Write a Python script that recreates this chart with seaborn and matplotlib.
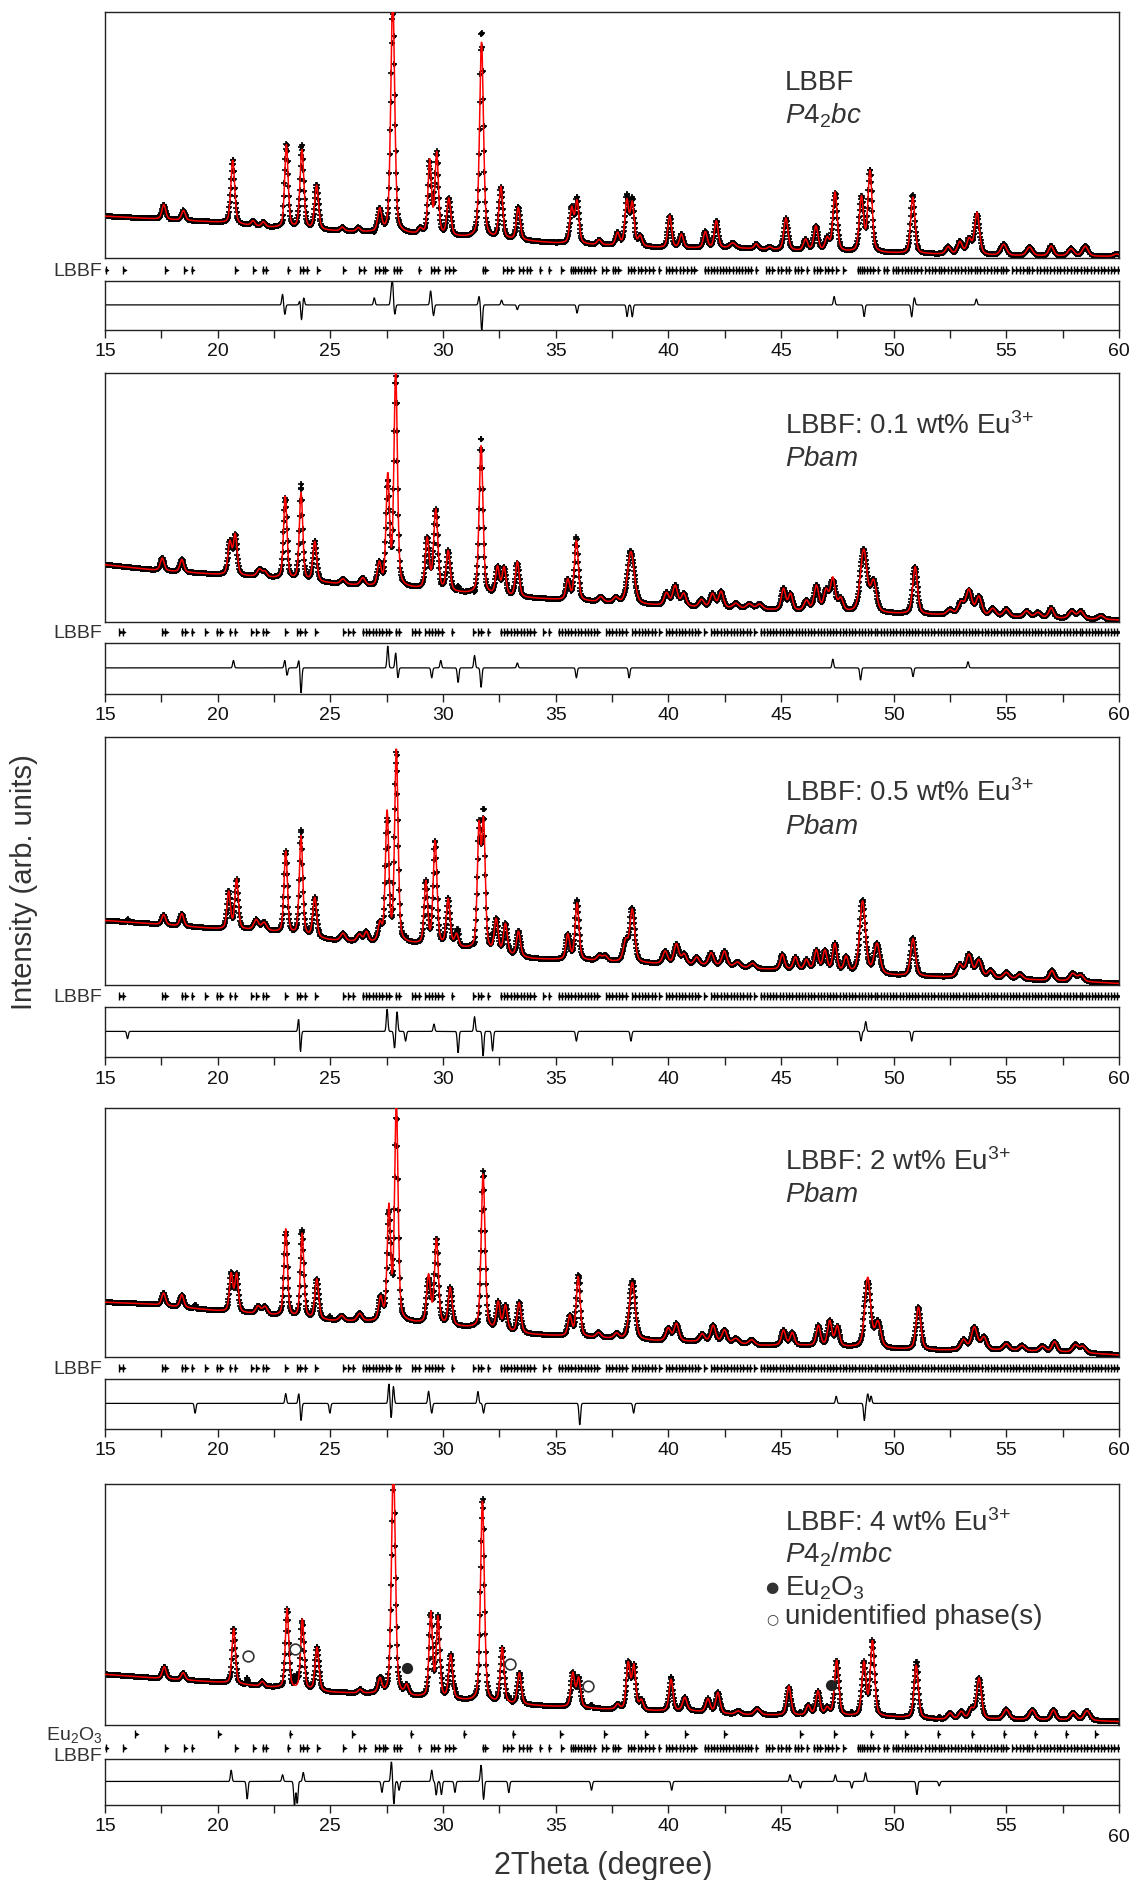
import numpy as np
import pandas as pd
import matplotlib
matplotlib.use("Agg")
import matplotlib.pyplot as plt
import seaborn as sns

# ---------------- data ----------------
# peaks: (2theta position, height above background, FWHM) ; intensities in arb. units (panel height = 1)
P1_BG_X = [15, 17, 20, 22, 25, 28, 30, 33, 35, 40, 43, 46, 50, 55, 60]
P1_BG_Y = [0.17, 0.16, 0.145, 0.125, 0.11, 0.10, 0.088, 0.074, 0.06, 0.04, 0.04, 0.028, 0.019, 0.009, 0.006]
P1_PEAKS = [(17.61, .06, .2), (18.48, .04, .2), (20.67, .26, .2), (21.57, .02, .2), (22.03, .02, .2),
            (23.05, .34, .18), (23.74, .32, .2), (24.39, .18, .2), (25.53, .015, .2), (26.24, .015, .2),
            (27.19, .09, .2), (27.77, .97, .2), (28.99, .02, .2), (29.41, .30, .18), (29.72, .33, .18),
            (30.26, .15, .2), (31.71, .80, .2), (32.57, .21, .2), (33.34, .13, .2), (35.71, .14, .2),
            (35.95, .17, .2), (36.93, .02, .2), (37.75, .05, .2), (38.16, .18, .2), (38.40, .17, .2),
            (38.75, .04, .2), (40.06, .13, .2), (40.58, .055, .2), (41.64, .065, .2), (42.13, .11, .2),
            (42.86, .02, .3), (43.90, .02, .2), (44.50, .01, .2), (45.22, .13, .22), (46.09, .045, .22),
            (46.55, .10, .22), (47.05, .05, .22), (47.40, .24, .22), (48.57, .22, .22), (48.95, .33, .22),
            (50.85, .23, .22), (52.42, .03, .25), (52.94, .05, .25), (53.35, .06, .25), (53.70, .17, .25),
            (54.88, .045, .3), (56.03, .035, .3), (56.99, .04, .25), (57.87, .03, .3), (58.50, .04, .3),
            (59.90, .01, .3)]
P1_DIFF = [(22.88, .045), (22.98, -.04), (23.65, .02), (23.72, -.065), (23.82, .03), (26.95, .03),
           (27.70, .05), (27.76, .09), (27.86, -.04), (29.45, .06), (29.58, -.045), (31.60, .035),
           (31.72, -.11), (32.60, .02), (33.30, -.02), (35.95, -.035), (38.17, -.05), (38.40, -.05),
           (47.36, .035), (48.69, -.05), (50.80, -.05), (50.92, .03), (53.67, .025)]

P2_BG_X = [15, 17, 20, 22, 25, 27, 28.5, 31, 34, 36.5, 39, 42, 44, 46, 50, 52, 55, 60]
P2_BG_Y = [0.23, 0.21, 0.19, 0.18, 0.155, 0.14, 0.135, 0.114, 0.095, 0.082, 0.068, 0.056, 0.05, 0.043,
           0.033, 0.028, 0.02, 0.008]
P2_PEAKS = [(17.54, .05, .2), (18.41, .05, .2), (20.54, .13, .2), (20.78, .16, .2), (21.86, .03, .25),
            (22.10, .02, .2), (23.00, .33, .18), (23.70, .35, .18), (24.31, .16, .2), (25.56, .02, .25),
            (26.44, .03, .25), (27.17, .09, .2), (27.55, .44, .18), (27.90, .86, .18), (29.30, .20, .2),
            (29.68, .32, .22), (30.23, .16, .2), (31.69, .60, .2), (32.42, .11, .2), (32.71, .11, .2),
            (33.30, .14, .2), (35.54, .08, .2), (35.92, .24, .2), (37.00, .02, .25), (37.67, .02, .25),
            (38.34, .21, .35), (39.92, .05, .25), (40.30, .08, .25), (40.68, .05, .25), (41.47, .03, .25),
            (41.96, .055, .25), (42.34, .065, .25), (43.00, .02, .3), (43.60, .02, .3), (44.05, .02, .3),
            (45.11, .085, .22), (45.42, .065, .22), (46.13, .04, .25), (46.57, .10, .25), (47.00, .08, .25),
            (47.30, .13, .25), (47.65, .05, .25), (48.67, .25, .35), (49.11, .12, .3), (50.95, .19, .25),
            (52.50, .02, .3), (52.99, .05, .3), (53.34, .10, .3), (53.78, .075, .3), (54.40, .03, .3),
            (55.00, .03, .3), (55.90, .025, .3), (56.40, .02, .3), (56.99, .04, .25), (57.90, .03, .3),
            (58.30, .03, .3), (59.20, .015, .3)]
P2_DIFF = [(20.70, .03), (22.98, .03), (23.08, -.03), (23.60, .03), (23.70, -.10), (27.55, .09),
           (27.90, .06), (28.00, -.04), (29.50, -.04), (29.90, .03), (30.67, -.06), (31.40, .05),
           (31.69, -.08), (33.30, .02), (35.92, -.04), (38.26, -.04), (47.30, .035), (48.53, -.05),
           (50.86, -.035), (53.30, .025)]

P3_BG_X = [15, 17, 20, 22, 25, 26.5, 28.5, 31, 34, 36.5, 39.5, 42, 44, 46, 50, 52, 55, 58, 60]
P3_BG_Y = [0.26, 0.247, 0.226, 0.22, 0.18, 0.17, 0.165, 0.145, 0.105, 0.098, 0.085, 0.078, 0.064,
           0.06, 0.038, 0.032, 0.024, 0.015, 0.006]
P3_PEAKS = [(17.60, .04, .2), (18.41, .05, .2), (20.49, .15, .18), (20.84, .20, .18), (21.71, .04, .25),
            (22.06, .03, .25), (23.02, .33, .18), (23.70, .40, .18), (24.31, .16, .2), (25.56, .03, .25),
            (26.29, .03, .25), (26.60, .04, .2), (27.20, .07, .2), (27.52, .52, .18), (27.93, .78, .18),
            (29.24, .25, .18), (29.65, .42, .2), (30.23, .19, .2), (30.60, .05, .2), (31.60, .48, .18),
            (31.80, .50, .18), (32.36, .13, .2), (32.77, .12, .2), (33.35, .10, .2), (35.54, .10, .2),
            (35.95, .23, .2), (36.94, .02, .25), (37.20, .02, .25), (38.11, .08, .25), (38.40, .21, .25),
            (39.86, .05, .25), (40.36, .08, .25), (40.70, .04, .25), (41.26, .03, .25), (41.90, .05, .25),
            (42.49, .06, .25), (43.07, .02, .3), (43.74, .02, .3), (45.06, .06, .22), (45.64, .05, .22),
            (46.13, .04, .22), (46.57, .08, .22), (46.95, .08, .22), (47.39, .11, .22), (47.89, .06, .22),
            (48.62, .29, .3), (49.26, .12, .3), (50.86, .15, .25), (52.93, .05, .3), (53.34, .09, .3),
            (53.78, .07, .3), (54.30, .03, .3), (55.00, .025, .3), (55.60, .02, .3), (57.02, .04, .25),
            (57.95, .03, .3), (58.30, .025, .3)]
P3_DIFF = [(16.00, -.03), (23.60, .06), (23.67, -.09), (27.52, .09), (27.85, -.07), (27.96, .08),
           (28.34, -.04), (29.60, .03), (30.67, -.09), (31.40, .06), (31.78, -.10), (32.20, -.08),
           (35.92, -.04), (38.34, -.04), (48.55, -.04), (48.76, .04), (50.80, -.04)]

P4_BG_X = [15, 17, 20, 22, 25, 28.5, 31, 34, 36.5, 39.5, 42, 44, 46, 50, 52, 55, 58, 60]
P4_BG_Y = [0.22, 0.212, 0.185, 0.17, 0.145, 0.138, 0.118, 0.09, 0.078, 0.064, 0.06, 0.046, 0.046,
           0.032, 0.027, 0.027, 0.018, 0.008]
P4_PEAKS = [(17.60, .05, .2), (18.41, .05, .2), (20.60, .15, .18), (20.84, .15, .18), (21.80, .03, .25),
            (22.10, .03, .25), (23.02, .35, .18), (23.75, .34, .18), (24.40, .16, .2), (25.50, .02, .25),
            (26.30, .03, .25), (27.23, .09, .2), (27.60, .45, .18), (27.93, .88, .18), (29.36, .19, .2),
            (29.71, .34, .2), (30.32, .15, .2), (31.78, .62, .2), (32.45, .11, .2), (32.77, .10, .2),
            (33.38, .12, .2), (35.63, .08, .2), (36.00, .24, .2), (36.90, .02, .25), (37.70, .02, .25),
            (38.40, .23, .3), (40.00, .05, .25), (40.36, .07, .25), (41.50, .03, .25), (41.99, .065, .25),
            (42.49, .05, .25), (43.00, .02, .3), (43.70, .02, .3), (45.11, .06, .22), (45.50, .05, .22),
            (46.66, .08, .22), (47.16, .10, .22), (47.50, .08, .22), (48.85, .28, .3), (49.30, .10, .3),
            (51.10, .17, .25), (53.10, .04, .3), (53.58, .09, .3), (54.00, .05, .3), (55.00, .025, .3),
            (55.70, .02, .3), (56.60, .02, .3), (57.14, .04, .25), (58.07, .03, .3), (58.40, .025, .3)]
P4_DIFF = [(19.00, -.04), (23.02, .04), (23.60, .04), (23.70, -.07), (24.98, -.04), (27.60, .08),
           (27.70, -.06), (27.80, .07), (29.36, .05), (29.50, -.04), (31.55, .05), (31.80, -.04),
           (36.07, -.09), (38.46, -.04), (47.45, .03), (48.70, -.07), (48.85, .04), (49.00, .03)]

P5_BG_X = [15, 17, 20, 22, 25, 27, 28.5, 30.5, 32, 35, 37, 39, 41, 43, 45, 48, 50, 52, 55, 58, 60]
P5_BG_Y = [0.21, 0.196, 0.177, 0.159, 0.135, 0.128, 0.117, 0.104, 0.09, 0.076, 0.066, 0.058, 0.058,
           0.042, 0.04, 0.036, 0.032, 0.023, 0.023, 0.02, 0.014]
P5_PEAKS = [(17.63, .05, .2), (18.47, .03, .2), (20.71, .23, .18), (21.98, .02, .2), (23.08, .33, .18),
            (23.76, .29, .18), (24.41, .18, .2), (26.32, .015, .2), (27.20, .06, .2), (27.80, .97, .2),
            (28.39, .04, .2), (29.46, .35, .18), (29.78, .33, .18), (30.34, .18, .2), (31.75, .84, .2),
            (32.63, .23, .2), (33.39, .13, .2), (35.76, .14, .2), (36.02, .12, .2), (37.75, .02, .2),
            (38.22, .19, .2), (38.47, .18, .2), (38.80, .04, .2), (40.12, .13, .2), (40.73, .055, .22),
            (41.76, .055, .22), (42.20, .085, .22), (43.10, .015, .3), (43.95, .025, .3), (45.35, .12, .22),
            (46.21, .04, .22), (46.64, .10, .22), (47.05, .03, .22), (47.47, .23, .22), (48.68, .22, .22),
            (49.06, .31, .22), (51.00, .22, .22), (52.50, .025, .25), (53.00, .03, .25), (53.45, .04, .25),
            (53.79, .17, .25), (55.00, .04, .3), (56.15, .04, .3), (57.09, .04, .25), (57.97, .03, .3),
            (58.58, .04, .3)]
P5_DIFF = [(20.60, .05), (21.31, -.08), (22.88, .03), (23.41, -.11), (23.53, -.10), (23.80, .04),
           (27.29, -.05), (27.71, .09), (27.82, -.10), (28.05, -.04), (29.50, .05), (29.70, -.06),
           (29.93, -.06), (30.53, -.05), (31.69, .075), (31.80, -.08), (32.92, -.05), (36.59, -.04),
           (40.15, -.04), (45.40, .03), (45.86, -.03), (47.41, .03), (48.14, -.03), (48.75, .04),
           (51.03, -.06), (52.02, -.02)]

# extra-phase markers in the 4 wt% pattern
UNID_X = [21.36, 23.44, 32.97, 36.44]
UNID_Y = [0.287, 0.314, 0.252, 0.162]
EU2O3_MARK_X = [28.39, 47.21]
EU2O3_MARK_Y = [0.238, 0.165]

# Bragg reflection positions
LBBF_TET_REFL = [15.03, 15.80, 17.67, 18.51, 18.85, 20.77, 21.57, 22.00, 22.13, 23.10, 23.66, 23.79, 23.95,
                 24.42, 25.56, 26.29, 26.49, 27.00, 27.17, 27.34, 27.43, 27.82, 27.94, 28.07, 28.92, 29.47,
                 29.60, 29.77, 30.11, 30.28, 30.45, 31.76, 31.88, 32.66, 32.86, 33.03, 33.37, 33.54, 33.71,
                 33.85, 34.30, 34.69, 35.24, 35.66, 35.78, 35.88, 36.00, 36.12, 36.26, 36.39, 36.51, 36.68,
                 37.07, 37.24, 37.53, 37.65, 37.78, 38.21, 38.34, 38.46, 38.67, 38.80, 38.97, 39.14, 39.31,
                 39.57, 39.91, 40.03, 40.16, 40.33, 40.50, 40.67, 40.85, 41.02, 41.15, 41.62, 41.75, 41.90,
                 42.02, 42.15, 42.30, 42.44, 42.58, 42.70, 42.85, 43.00, 43.12, 43.26, 43.40, 43.55, 43.65,
                 43.88, 44.35, 44.45, 44.60, 44.85, 45.00, 45.20, 45.35, 45.60, 45.75, 45.90, 46.15, 46.45,
                 46.60, 46.75, 46.95, 47.10, 47.25, 47.45, 47.75, 48.40, 48.50, 48.60, 48.70, 48.82, 48.95,
                 49.10, 49.30, 49.55, 49.70, 49.95, 50.10, 50.20, 50.35, 50.50, 50.62, 50.75, 50.90, 51.05,
                 51.20, 51.40, 51.55, 51.70, 51.85, 52.00, 52.12, 52.25, 52.40, 52.55, 52.70, 52.85, 53.00,
                 53.15, 53.30, 53.45, 53.60, 53.72, 53.85, 54.00, 54.15, 54.30, 54.45, 54.60, 54.75, 54.85,
                 55.00, 55.25, 55.45, 55.60, 55.75, 55.90, 56.00, 56.15, 56.35, 56.50, 56.65, 56.80, 56.95,
                 57.10, 57.25, 57.40, 57.55, 57.70, 57.85, 58.00, 58.15, 58.30, 58.45, 58.60, 58.75, 58.90,
                 59.05, 59.20, 59.35, 59.50, 59.65, 59.80, 59.95]
LBBF_PBAM_REFL = [15.64, 15.79, 17.54, 17.68, 18.41, 18.56, 18.85, 19.44, 19.96, 20.11, 20.54, 20.75, 21.48,
                  21.71, 22.00, 22.15, 23.00, 23.52, 23.67, 23.87, 24.34, 25.56, 25.80, 26.00, 26.44, 26.58,
                  26.73, 26.88, 27.02, 27.17, 27.31, 27.49, 27.61, 27.90, 28.04, 28.63, 28.77, 28.92, 29.21,
                  29.36, 29.50, 29.65, 29.80, 29.94, 30.38, 31.34, 31.55, 31.69, 31.98, 32.57, 32.72, 32.86,
                  33.00, 33.15, 33.30, 33.44, 33.59, 33.74, 33.88, 34.02, 34.46, 34.70, 35.13, 35.27, 35.42,
                  35.56, 35.70, 35.85, 35.99, 36.13, 36.28, 36.42, 36.56, 36.70, 36.85, 37.24, 37.38, 37.52,
                  37.67, 37.81, 37.95, 38.10, 38.40, 38.54, 38.68, 38.83, 38.97, 39.11, 39.26, 39.40, 39.60,
                  39.90, 40.04, 40.18, 40.33, 40.47, 40.61, 40.76, 40.90, 41.04, 41.19, 41.33, 41.60, 41.90,
                  42.04, 42.18, 42.33, 42.47, 42.61, 42.76, 42.90, 43.04, 43.19, 43.33, 43.47, 43.62, 43.80,
                  44.10, 44.24, 44.38, 44.52, 44.66, 44.80, 44.95, 45.08, 45.22, 45.36, 45.50, 45.65, 45.78,
                  45.92, 46.06, 46.20, 46.35, 46.48, 46.62, 46.76, 46.90, 47.05, 47.18, 47.32, 47.46, 47.60,
                  47.75, 47.88, 48.02, 48.16, 48.30, 48.45, 48.58, 48.72, 48.86, 49.00, 49.15, 49.28, 49.42,
                  49.56, 49.70, 49.85, 49.98, 50.12, 50.26, 50.40, 50.55, 50.68, 50.82, 50.96, 51.10, 51.25,
                  51.38, 51.52, 51.66, 51.80, 51.95, 52.08, 52.22, 52.36, 52.50, 52.65, 52.78, 52.92, 53.06,
                  53.20, 53.35, 53.48, 53.62, 53.76, 53.90, 54.05, 54.18, 54.32, 54.46, 54.60, 54.75, 54.88,
                  55.02, 55.16, 55.30, 55.45, 55.58, 55.72, 55.86, 56.00, 56.15, 56.28, 56.42, 56.56, 56.70,
                  56.85, 56.98, 57.12, 57.26, 57.40, 57.55, 57.68, 57.82, 57.96, 58.10, 58.25, 58.38, 58.52,
                  58.66, 58.80, 58.95, 59.08, 59.22, 59.36, 59.50, 59.65, 59.78, 59.92]
EU2O3_REFL = [16.33, 20.03, 23.20, 25.97, 28.57, 30.92, 33.09, 35.19, 37.15, 38.98, 40.76, 42.47, 45.86,
              47.35, 48.98, 50.50, 51.95, 53.47, 54.89, 56.26, 57.63, 58.95]

LABELS = ["LBBF", "LBBF: 0.1 wt% Eu$^{3{+}}$", "LBBF: 0.5 wt% Eu$^{3{+}}$", "LBBF: 2 wt% Eu$^{3{+}}$",
          "LBBF: 4 wt% Eu$^{3{+}}$"]
SPACE_GROUPS = [r"$\mathit{P4_2bc}$", r"$\mathit{Pbam}$", r"$\mathit{Pbam}$", r"$\mathit{Pbam}$",
                r"$\mathit{P4_2/mbc}$"]
X_TICKS = [15, 20, 25, 30, 35, 40, 45, 50, 55, 60]

# ---------------- style ----------------
sns.set_theme(style="white")
plt.rcParams["font.family"] = ["Liberation Sans", "DejaVu Sans"]
plt.rcParams["mathtext.fontset"] = "custom"
plt.rcParams["mathtext.rm"] = "Liberation Sans"
plt.rcParams["mathtext.it"] = "Liberation Sans:italic"
plt.rcParams["mathtext.bf"] = "Liberation Sans:bold"
TXT = "#333333"

W, H = 1137, 1881
fig = plt.figure(figsize=(W / 100, H / 100), dpi=100)
fig.patch.set_facecolor("white")
LEFT, RIGHT = 105, 1119

TWO_THETA = np.round(np.arange(15.0, 60.0001, 0.02), 3)


def calc_profile(peaks, bx, by):
    y = np.interp(TWO_THETA, bx, by)
    for p, h, w in peaks:
        z = (TWO_THETA - p) / w
        y = y + h * (0.4 / (1 + 4 * z * z) + 0.6 * np.exp(-4 * np.log(2) * z * z))
    return y


def diff_profile(res):
    r = np.zeros_like(TWO_THETA)
    for p, a in res:
        r = r + a * np.exp(-0.5 * ((TWO_THETA - p) / 0.035) ** 2)
    return r


def add_ax(top, bottom):
    return fig.add_axes([LEFT / W, 1 - bottom / H, (RIGHT - LEFT) / W, (bottom - top) / H])


def fy(y):
    return 1 - y / H


panels = [
    dict(peaks=P1_PEAKS, bx=P1_BG_X, by=P1_BG_Y, res=P1_DIFF, main=(13, 259), ticks=[(271, LBBF_TET_REFL, "LBBF", 271)],
         diff=(282, 331), text_y=(83, 116), inner=[30]),
    dict(peaks=P2_PEAKS, bx=P2_BG_X, by=P2_BG_Y, res=P2_DIFF, main=(374, 623), ticks=[(633, LBBF_PBAM_REFL, "LBBF", 634)],
         diff=(644, 695), text_y=(426, 459), inner=[]),
    dict(peaks=P3_PEAKS, bx=P3_BG_X, by=P3_BG_Y, res=P3_DIFF, main=(738, 986), ticks=[(997, LBBF_PBAM_REFL, "LBBF", 998)],
         diff=(1008, 1058), text_y=(793, 827), inner=[40, 50]),
    dict(peaks=P4_PEAKS, bx=P4_BG_X, by=P4_BG_Y, res=P4_DIFF, main=(1109, 1358), ticks=[(1369, LBBF_PBAM_REFL, "LBBF", 1370)],
         diff=(1380, 1430), text_y=(1162, 1195), inner=[]),
    dict(peaks=P5_PEAKS, bx=P5_BG_X, by=P5_BG_Y, res=P5_DIFF, main=(1485, 1726),
         ticks=[(1735, EU2O3_REFL, "Eu$_2$O$_3$", 1735), (1749, LBBF_TET_REFL, "LBBF", 1757)],
         diff=(1760, 1806), text_y=(1523, 1555), inner=[40]),
]

for i, pnl in enumerate(panels):
    calc = calc_profile(pnl["peaks"], pnl["bx"], pnl["by"])
    diff = diff_profile(pnl["res"])
    obs = calc - 0.35 * diff
    df = pd.DataFrame({"tt": TWO_THETA, "obs": obs, "calc": calc, "diff": diff})

    # main panel
    ax = add_ax(*pnl["main"])
    sns.scatterplot(data=df, x="tt", y="obs", ax=ax, marker="+", s=22, color="black",
                    linewidth=1.2, legend=False, zorder=2)
    sns.scatterplot(data=df, x="tt", y="obs", ax=ax, marker="o", s=7, color="black",
                    linewidth=0, legend=False, zorder=2)
    sns.lineplot(data=df, x="tt", y="calc", ax=ax, color="#ff0000", linewidth=1.1,
                 estimator=None, sort=False, legend=False, zorder=3)
    ax.set_xlim(15, 60)
    ax.set_ylim(0, 1)
    ax.set_xlabel("")
    ax.set_ylabel("")
    ax.set_yticks([])
    ax.set_xticks(pnl["inner"])
    ax.tick_params(axis="x", direction="in", length=4, width=0.8, labelbottom=False, colors="#333333")
    for s in ax.spines.values():
        s.set_color("#222222")
        s.set_linewidth(1.0)
    ax.set_facecolor("white")

    if i == 4:
        sns.scatterplot(x=UNID_X, y=UNID_Y, ax=ax, marker="o", s=60, facecolor="white",
                        edgecolor="#333333", linewidth=1.2, legend=False, zorder=4)
        sns.scatterplot(x=EU2O3_MARK_X, y=EU2O3_MARK_Y, ax=ax, marker="o", s=65, color="#222222",
                        linewidth=0, legend=False, zorder=4)

    # annotation
    ty1, ty2 = pnl["text_y"]
    fig.text(785 / W, fy(ty1), LABELS[i], fontsize=20, color=TXT, ha="left", va="center")
    fig.text(785 / W, fy(ty2), SPACE_GROUPS[i], fontsize=20, color=TXT, ha="left", va="center")
    if i == 4:
        fig.text(772 / W, fy(1588), "\u25CF", fontsize=11, color=TXT, ha="center", va="center",
                 family=["DejaVu Sans"])
        fig.text(785 / W, fy(1588), "Eu$_2$O$_3$", fontsize=20, color=TXT, ha="left", va="center")
        fig.text(772 / W, fy(1619), "\u25CB", fontsize=10, color=TXT, ha="center", va="center",
                 family=["DejaVu Sans"])
        fig.text(785 / W, fy(1617), "unidentified phase(s)", fontsize=20, color=TXT, ha="left", va="center")

    # reflection tick rows
    for (ry, refl, lab, ly) in pnl["ticks"]:
        tax = add_ax(ry - 6, ry + 6)
        tax.set_xlim(15, 60)
        tax.set_ylim(0, 1)
        tax.axis("off")
        r = np.asarray(refl)
        tax.plot(r, np.full(len(r), 0.5), linestyle="none", marker="|", markersize=5.5,
                 markeredgewidth=1.0, color="black")
        tax.plot(r + 0.07, np.full(len(r), 0.5), linestyle="none", marker=">", markersize=2.4,
                 markeredgewidth=0.5, color="black")
        fig.text(102 / W, fy(ly), lab, fontsize=14, color=TXT, ha="right", va="center")

    # difference panel
    dax = add_ax(*pnl["diff"])
    sns.lineplot(data=df, x="tt", y="diff", ax=dax, color="black", linewidth=0.9,
                 estimator=None, sort=False, legend=False)
    dax.set_xlim(15, 60)
    dax.set_ylim(-0.105, 0.1)
    dax.set_xlabel("")
    dax.set_ylabel("")
    dax.set_yticks([])
    dax.set_xticks(X_TICKS)
    dax.set_xticks([17.5, 22.5, 27.5, 32.5, 37.5, 42.5, 47.5, 52.5, 57.5], minor=True)
    dax.tick_params(axis="x", which="both", direction="out", length=6, width=1.0,
                    bottom=True, colors="#222222", labelcolor="#111111", labelsize=14, pad=3)
    if i == 4:
        dax.set_xticklabels([str(t) for t in X_TICKS[:-1]] + [""])
        fig.text(RIGHT / W, fy(1838), "60", fontsize=14, color="#111111", ha="center", va="center")
    for s in dax.spines.values():
        s.set_color("#222222")
        s.set_linewidth(1.0)

fig.text(24 / W, fy(882), "Intensity (arb. units)", rotation=90, fontsize=21, color=TXT,
         ha="center", va="center")
fig.text(603 / W, fy(1866), "2Theta (degree)", fontsize=22, color=TXT, ha="center", va="center")

fig.savefig("out.png", dpi=100, facecolor="white")
